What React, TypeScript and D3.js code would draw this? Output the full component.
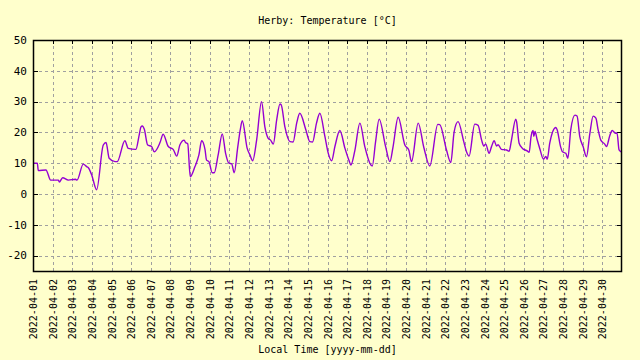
import React, { useRef, useEffect } from 'react';
import * as d3 from 'd3';

// time in days since 2022-04-01 00:00 local, temperature in °C
const days = [
  0, 0.22, 0.27, 0.66, 0.9, 1.29, 1.34, 1.51, 1.8, 2.17, 2.24, 2.56, 2.73, 2.82, 2.99, 3.24, 3.58, 3.72, 3.88, 4.18,
  4.29, 4.68, 4.85, 5.24, 5.41, 5.5, 5.57, 5.67, 5.84, 6.04, 6.18, 6.47, 6.63, 6.89, 7.14, 7.32, 7.48, 7.7, 7.77, 7.88,
  8.01, 8.25, 8.45, 8.59, 8.76, 8.84, 8.96, 9.13, 9.23, 9.43, 9.64, 9.81, 9.98, 10.12, 10.25, 10.42, 10.56, 10.66,
  10.91, 11.05, 11.19, 11.39, 11.64, 11.81, 11.98, 12.1, 12.24, 12.41, 12.58, 12.64, 12.83, 13.09, 13.25, 13.43, 13.59,
  13.9, 14.1, 14.24, 14.44, 14.61, 14.87, 15.04, 15.21, 15.38, 15.63, 15.89, 16.1, 16.19, 16.39, 16.65, 16.9, 17.21,
  17.28, 17.45, 17.63, 17.96, 18.18, 18.33, 18.6, 18.94, 19.14, 19.28, 19.62, 19.91, 20.21, 20.62, 20.72, 21.06, 21.28,
  21.45, 21.65, 21.94, 22.08, 22.21, 22.5, 22.67, 22.85, 22.96, 23.06, 23.23, 23.35, 23.49, 23.61, 23.69, 23.86, 24.12,
  24.25, 24.37, 24.59, 24.63, 24.76, 24.93, 25.17, 25.27, 25.37, 25.47, 25.51, 25.57, 25.68, 25.81, 26.0, 26.12, 26.19,
  26.32, 26.63, 26.7, 26.87, 26.97, 27.14, 27.24, 27.39, 27.6, 27.71, 27.85, 28.02, 28.19, 28.36, 28.53, 28.67, 28.78,
  28.92, 29.12, 29.21, 29.38, 29.5, 29.68, 29.75, 29.85, 29.96,
];
const temps = [
  10.0, 10.0, 7.6, 7.8, 4.5, 4.5, 3.9, 5.3, 4.5, 4.8, 4.5, 9.7, 8.9, 8.5, 6.2, 1.4, 15.9, 16.7, 11.6, 10.5,
  10.5, 17.3, 14.8, 14.5, 19.2, 21.8, 22.1, 21.0, 15.9, 15.4, 13.7, 16.7, 19.4, 15.4, 14.5, 12.3, 15.9, 17.5, 16.7, 16.3,
  5.6, 8.9, 12.7, 17.3, 14.5, 11.0, 10.5, 6.9, 6.9, 12.7, 19.5, 13.2, 10.0, 9.8, 6.9, 14.8, 21.0, 23.8,
  14.8, 12.7, 10.8, 17.5, 30.0, 21.8, 18.1, 17.5, 16.2, 24.0, 29.2, 29.0, 21.8, 17.0, 16.9, 23.0, 26.2,
  20.8, 17.0, 16.9, 23.0, 26.2, 18.6, 13.2, 10.8, 15.5, 20.6, 14.8, 10.8, 9.4, 14.0, 23.0, 15.4, 9.4,
  9.1, 17.0, 24.3, 15.4, 10.5, 15.0, 24.9, 15.9, 14.3, 10.5, 23.0, 15.0, 9.1, 22.6, 22.5, 14.3, 10.2,
  20.2, 23.5, 17.0, 13.7, 12.3, 22.7, 22.3, 17.5, 15.6, 16.2, 13.2, 15.3, 17.3, 15.6, 16.0, 14.5, 14.3,
  13.9, 17.5, 24.3, 23.5, 16.5, 14.8, 14.0, 13.5, 18.7, 20.6, 18.7, 20.3, 17.6, 14.8, 11.3, 12.2, 11.3,
  16.5, 21.6, 20.8, 15.4, 13.7, 13.2, 11.6, 20.8, 25.6, 25.3, 18.6, 15.4, 12.1, 19.5, 25.3, 24.6, 21.0,
  17.5, 16.2, 15.4, 19.0, 20.6, 19.7, 19.7, 14.3, 13.7,
];
const yTicks = [-20, -10, 0, 10, 20, 30, 40, 50];

const title = 'Herby: Temperature [°C]';
const xLabel = 'Local Time [yyyy-mm-dd]';

const App = () => {
  const chartRef = useRef(null);

  useEffect(() => {
    const width = 640;
    const height = 360;
    const margin = { top: 40, right: 18, bottom: 89, left: 33 };
    const font = '"DejaVu Sans Mono", monospace';
    const start = Date.UTC(2022, 3, 1);
    const data = days.map((d, i) => ({ t: new Date(start + d * 864e5), v: temps[i] }));

    d3.select(chartRef.current).select('svg').remove();
    const svg = d3
      .select(chartRef.current)
      .append('svg')
      .attr('width', width)
      .attr('height', height)
      .style('position', 'absolute')
      .style('left', 0)
      .style('top', 0)
      .style('font-family', font);

    svg.append('rect').attr('width', width).attr('height', height).attr('fill', '#ffffcc');

    const xScale = d3
      .scaleUtc()
      .domain([new Date(start), new Date(Date.UTC(2022, 4, 1))])
      .range([margin.left, width - margin.right]);
    const yScale = d3.scaleLinear().domain([-25, 50]).range([height - margin.bottom, margin.top]);

    const dayTicks = d3.utcDay.range(new Date(start), new Date(Date.UTC(2022, 4, 1)));
    const fmt = d3.utcFormat('%Y-%m-%d');
    const top = margin.top;
    const bottom = height - margin.bottom;
    const left = margin.left;
    const right = width - margin.right;

    // grid
    svg
      .selectAll('.vgrid')
      .data(dayTicks.slice(1))
      .enter()
      .append('line')
      .attr('x1', d => Math.round(xScale(d)) + 0.5)
      .attr('x2', d => Math.round(xScale(d)) + 0.5)
      .attr('y1', top)
      .attr('y2', bottom)
      .attr('stroke', '#a0a0a0')
      .attr('stroke-dasharray', '3,3');
    svg
      .selectAll('.hgrid')
      .data(yTicks.filter(d => d < 50))
      .enter()
      .append('line')
      .attr('x1', left)
      .attr('x2', right)
      .attr('y1', d => Math.round(yScale(d)) + 0.5)
      .attr('y2', d => Math.round(yScale(d)) + 0.5)
      .attr('stroke', '#a0a0a0')
      .attr('stroke-dasharray', '3,3');

    // tick marks
    yTicks.forEach(t => {
      const y = Math.round(yScale(t)) + 0.5;
      svg.append('line').attr('x1', left).attr('x2', left + 5).attr('y1', y).attr('y2', y).attr('stroke', '#000');
      svg.append('line').attr('x1', right - 5).attr('x2', right).attr('y1', y).attr('y2', y).attr('stroke', '#000');
    });
    dayTicks.forEach(t => {
      const x = Math.round(xScale(t)) + 0.5;
      svg.append('line').attr('x1', x).attr('x2', x).attr('y1', top).attr('y2', top + 4).attr('stroke', '#000');
    });

    // data line
    const line = d3
      .line()
      .curve(d3.curveMonotoneX)
      .x(d => xScale(d.t))
      .y(d => yScale(d.v));
    svg
      .append('path')
      .datum(data)
      .attr('d', line)
      .attr('fill', 'none')
      .attr('stroke', '#9400d3')
      .attr('stroke-width', 1.4);

    // frame
    svg
      .append('rect')
      .attr('x', left + 0.5)
      .attr('y', top + 0.5)
      .attr('width', right - left - 1)
      .attr('height', bottom - top)
      .attr('fill', 'none')
      .attr('stroke', '#000')
      .attr('stroke-width', 1.5);

    // y labels
    svg
      .selectAll('.ylab')
      .data(yTicks)
      .enter()
      .append('text')
      .attr('x', left - 6)
      .attr('y', d => yScale(d))
      .attr('dy', '0.35em')
      .attr('text-anchor', 'end')
      .style('font-size', '11px')
      .style('fill', '#000')
      .text(d => d);

    // x labels
    svg
      .selectAll('.xlab')
      .data(dayTicks)
      .enter()
      .append('text')
      .attr('transform', d => `translate(${xScale(d) + 4},${bottom + 8}) rotate(-90)`)
      .attr('text-anchor', 'end')
      .style('font-size', '10px')
      .style('fill', '#000')
      .text(d => fmt(d));

    svg
      .append('text')
      .attr('x', (left + right) / 2)
      .attr('y', 24)
      .attr('text-anchor', 'middle')
      .style('font-size', '10px')
      .style('fill', '#000')
      .text(title);

    svg
      .append('text')
      .attr('x', (left + right) / 2)
      .attr('y', 353)
      .attr('text-anchor', 'middle')
      .style('font-size', '10px')
      .style('fill', '#000')
      .text(xLabel);
  }, []);

  return <div ref={chartRef} className="temp-chart"></div>;
};

export default App;
